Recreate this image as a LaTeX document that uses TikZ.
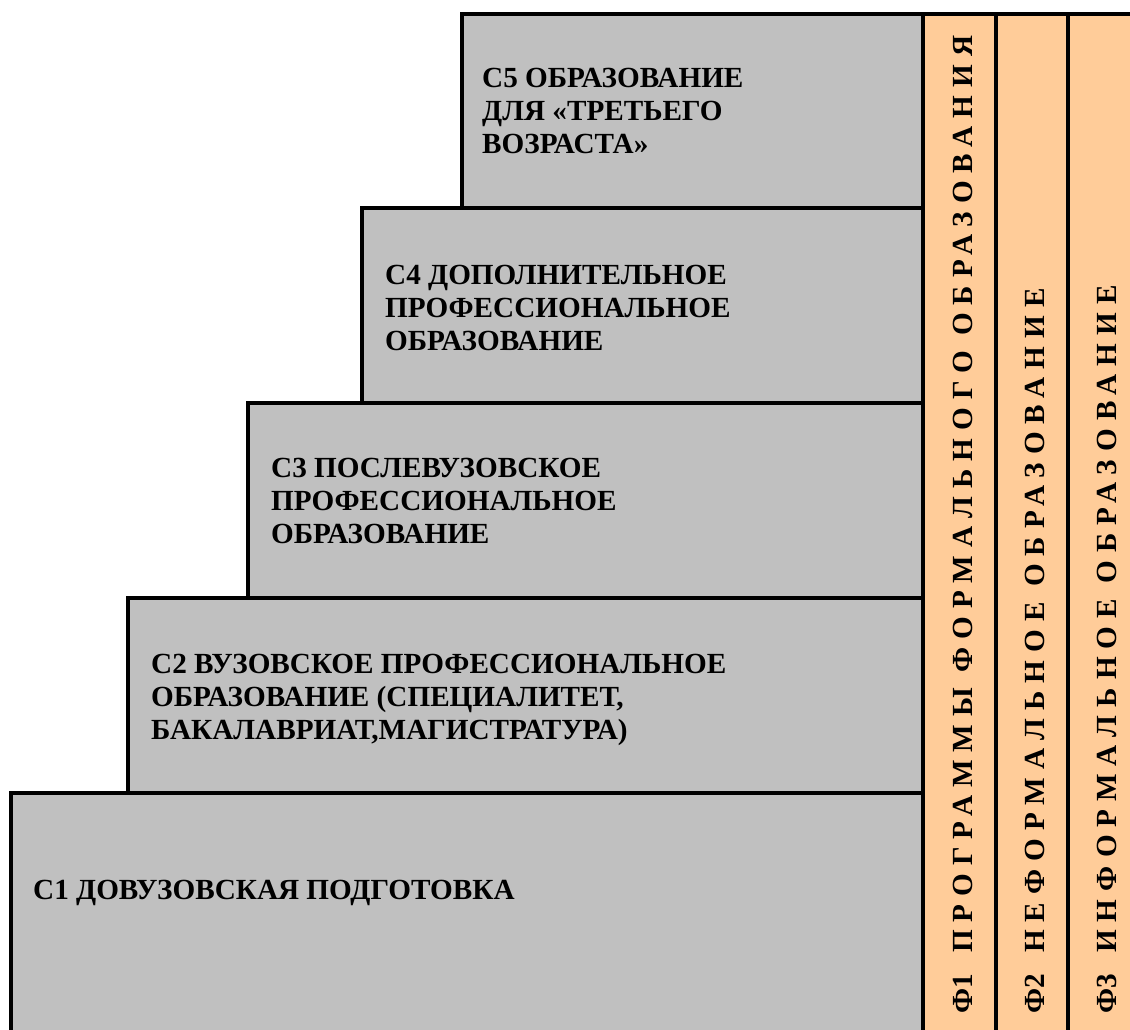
\documentclass[tikz,border=0pt]{standalone}
\usepackage{fontspec}
\setmainfont{Liberation Serif}
\definecolor{stepgray}{HTML}{C0C0C0}
\definecolor{colorange}{HTML}{FFCC99}
\begin{document}
\begin{tikzpicture}[x=1pt,y=1pt,
  stepbox/.style={fill=stepgray,draw=black,line width=4pt},
  colbox/.style={fill=colorange,draw=black,line width=3.5pt},
  steptext/.style={anchor=base west,align=left,inner sep=0pt,font=\fontsize{29.2}{33}\selectfont\bfseries},
  coltext/.style={anchor=base west,rotate=90,inner sep=0pt,font=\fontsize{29.2}{33}\selectfont\bfseries\addfontfeature{LetterSpace=27.5}}]
\clip (0,0) rectangle (1130,-1029);
\fill[white] (0,0) rectangle (1130,-1029);
% columns
\draw[colbox] (923,-14) rectangle (996,-1045);
\draw[colbox] (996,-14) rectangle (1068,-1045);
\draw[colbox] (1068,-14) rectangle (1140,-1045);
% steps
\draw[stepbox] (11,-793) rectangle (923,-1045);
\draw[stepbox] (128,-598) rectangle (923,-793);
\draw[stepbox] (248,-403) rectangle (923,-598);
\draw[stepbox] (362,-208) rectangle (923,-403);
\draw[stepbox] (462,-14) rectangle (923,-208);
% step texts (anchored at the baseline of the last line)
\node[steptext] (c1) at (33,-899) {C1 ДОВУЗОВСКАЯ ПОДГОТОВКА};
\node[steptext] (c2) at (151,-739) {C2 ВУЗОВСКОЕ ПРОФЕССИОНАЛЬНОЕ\\ОБРАЗОВАНИЕ (СПЕЦИАЛИТЕТ,\\БАКАЛАВРИАТ,МАГИСТРАТУРА)};
\node[steptext] (c3) at (271,-543) {C3 ПОСЛЕВУЗОВСКОЕ\\ПРОФЕССИОНАЛЬНОЕ\\ОБРАЗОВАНИЕ};
\node[steptext] (c4) at (385,-350) {C4 ДОПОЛНИТЕЛЬНОЕ\\ПРОФЕССИОНАЛЬНОЕ\\ОБРАЗОВАНИЕ};
\node[steptext] (c5) at (482,-153) {C5 ОБРАЗОВАНИЕ\\ДЛЯ «ТРЕТЬЕГО\\ВОЗРАСТА»};
% column texts
\node[coltext] (f1) at (972,-1014) {{\addfontfeature{LetterSpace=0}Ф1}\hspace{6pt}\ ПРОГРАММЫ ФОРМАЛЬНОГО ОБРАЗОВАНИЯ};
\node[coltext] (f2) at (1044,-1014) {{\addfontfeature{LetterSpace=0}Ф2}\hspace{6pt}\ НЕФОРМАЛЬНОЕ ОБРАЗОВАНИЕ};
\node[coltext] (f3) at (1116,-1014) {{\addfontfeature{LetterSpace=0}Ф3}\hspace{6pt}\ ИНФОРМАЛЬНОЕ ОБРАЗОВАНИЕ};
\end{tikzpicture}
\end{document}
